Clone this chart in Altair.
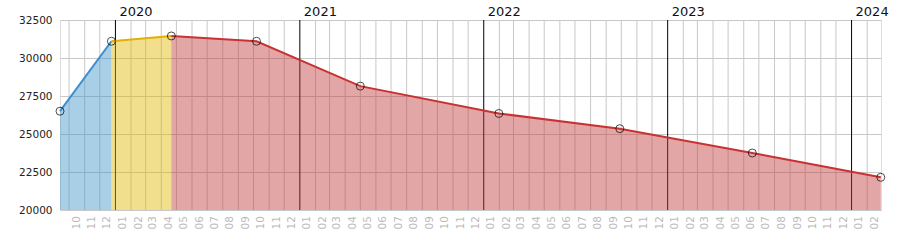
import altair as alt
import pandas as pd

# ---- data ----
point_dates = ["2019-09-13", "2019-12-24", "2020-04-21", "2020-10-07", "2021-05-01",
               "2022-01-31", "2022-09-28", "2023-06-18", "2024-02-28"]
point_values = [26500, 31100, 31450, 31100, 28150, 26350, 25350, 23750, 22150]
# segment boundaries (index ranges into the points)
segments = [("a", 0, 1), ("b", 1, 2), ("c", 2, 8)]
seg_area_colors = ["#4095c8", "#e0b804", "#bf3a3a"]
seg_line_colors = ["#3a8fd0", "#e2b000", "#c83232"]
y_ticks = [20000, 22500, 25000, 27500, 30000, 32500]
years = [2020, 2021, 2022, 2023, 2024]

rows = []
for seg, i0, i1 in segments:
    for i in range(i0, i1 + 1):
        rows.append({"date": point_dates[i] + "T00:00:00Z", "value": point_values[i], "seg": seg})
seg_df = pd.DataFrame(rows)
pts_df = pd.DataFrame({"date": [d + "T00:00:00Z" for d in point_dates], "value": point_values})

month_starts = pd.date_range("2019-10-01", "2024-02-01", freq="MS")
grid_df = pd.DataFrame({
    "date": [d.strftime("%Y-%m-%dT00:00:00Z") for d in month_starts],
    "jan": [d.month == 1 for d in month_starts],
})
month_label_df = pd.DataFrame({
    "date": [(d + pd.Timedelta(days=15)).strftime("%Y-%m-%dT00:00:00Z") for d in month_starts],
    "label": [d.strftime("%m") for d in month_starts],
})
year_df = pd.DataFrame({"date": [f"{y}-01-01T00:00:00Z" for y in years], "label": [str(y) for y in years]})

xscale = alt.Scale(type="utc",
                   domain=[alt.DateTime(year=2019, month=9, date=13, utc=True),
                           alt.DateTime(year=2024, month=2, date=28, hours=10, utc=True)])
yscale = alt.Scale(domain=[20000, 32500], nice=False, zero=False)
yaxis = alt.Axis(values=y_ticks, tickCount=6, title=None, grid=True, gridColor="#c8c8c8",
                 domain=False, ticks=False, labelFont="DejaVu Sans", labelFontSize=10.5,
                 labelColor="#222222", labelPadding=8, format="d",
                 labelOverlap=False, labelFlush=False, labelBound=False)

X = lambda: alt.X("date:T", scale=xscale, axis=None)
Y = lambda **kw: alt.Y("value:Q", scale=yscale, axis=yaxis, **kw)

grid_gray = alt.Chart(grid_df).transform_filter("!datum.jan").mark_rule(color="#c8c8c8", strokeWidth=1).encode(x=X())
grid_black = alt.Chart(grid_df).transform_filter("datum.jan").mark_rule(color="#000000", strokeWidth=1).encode(x=X())

area = alt.Chart(seg_df).mark_area(opacity=0.45, interpolate="linear").encode(
    x=X(),
    y=Y(stack=None),
    color=alt.Color("seg:N", scale=alt.Scale(domain=["a", "b", "c"], range=seg_area_colors), legend=None),
)
line = alt.Chart(seg_df).mark_line(strokeWidth=2).encode(
    x=X(),
    y=Y(),
    color=alt.Color("seg:N", scale=alt.Scale(domain=["a", "b", "c"], range=seg_line_colors), legend=None),
)
points = alt.Chart(pts_df).mark_point(shape="circle", filled=False, color="#000000", size=64, strokeWidth=1).encode(
    x=X(), y=Y()
)
month_labels = alt.Chart(month_label_df).mark_text(
    angle=270, align="right", baseline="middle", font="DejaVu Sans", fontSize=10.5, color="#bbbbbb"
).encode(x=X(), y=alt.value(196), text="label:N")
year_labels = alt.Chart(year_df).mark_text(
    align="left", baseline="middle", dx=4, font="DejaVu Sans", fontSize=13, color="#111111"
).encode(x=X(), y=alt.value(-8), text="label:N")

chart = alt.layer(grid_gray, grid_black, area, line, points, month_labels, year_labels).resolve_scale(
    color="independent"
).properties(
    width=821, height=190,
    autosize=alt.AutoSizeParams(type="none"),
    padding={"left": 60, "top": 20, "right": 19, "bottom": 40},
).configure_view(stroke="#c8c8c8").configure(background="white")

chart.save("out.html", embed_options={"renderer": "svg", "actions": False})
